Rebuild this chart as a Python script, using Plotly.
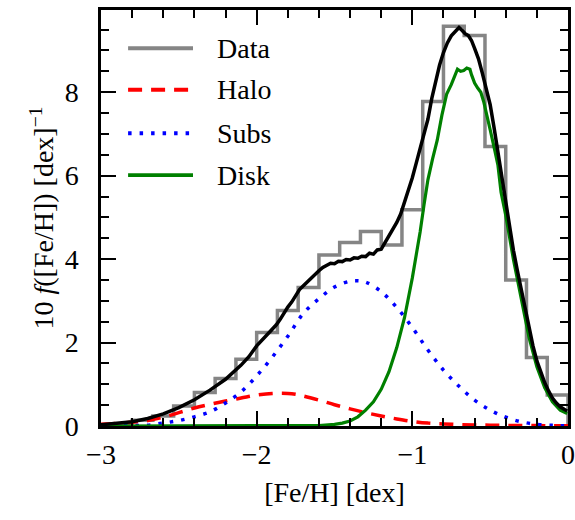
import numpy as np
import plotly.graph_objects as go

# ---- metallicity histogram (bin width 2/15 dex) ----
bin_edges = np.round(np.arange(-22, 1) * 2.0 / 15.0, 4)
hist_vals = [0.05, 0.14, 0.24, 0.48, 0.80, 1.14, 1.60, 2.24, 2.77, 3.32,
             4.10, 4.40, 4.66, 4.34, 5.18, 7.78, 9.58, 9.36, 6.70, 3.50,
             1.64, 0.74]

# ---- total model (noisy, sampled) ----
total_x = [-3.0, -2.9, -2.8, -2.7, -2.6, -2.5, -2.4, -2.3, -2.2, -2.1,
           -2.05, -2.0, -1.975, -1.95, -1.925, -1.9, -1.875, -1.85, -1.825, -1.8,
           -1.775, -1.75, -1.725, -1.7, -1.675, -1.65, -1.625, -1.6, -1.575, -1.55,
           -1.525, -1.5, -1.475, -1.45, -1.425, -1.4, -1.375, -1.35, -1.325, -1.3,
           -1.275, -1.25, -1.225, -1.2, -1.175, -1.15, -1.125, -1.1, -1.075, -1.05,
           -1.025, -1.0, -0.975, -0.95, -0.925, -0.9, -0.875, -0.85, -0.825, -0.8,
           -0.775, -0.75, -0.725, -0.7, -0.68, -0.66, -0.64, -0.62, -0.6, -0.575,
           -0.55, -0.525, -0.5, -0.475, -0.45, -0.425, -0.4, -0.375, -0.35, -0.325,
           -0.3, -0.275, -0.25, -0.225, -0.2, -0.175, -0.15, -0.125, -0.1, -0.075,
           -0.05, -0.025, -0.005]
total_y = [0.03, 0.06, 0.10, 0.18, 0.29, 0.44, 0.63, 0.86, 1.12, 1.46,
           1.66, 1.92, 2.02, 2.10, 2.20, 2.30, 2.42, 2.55, 2.72, 2.85,
           2.97, 3.12, 3.27, 3.36, 3.45, 3.56, 3.64, 3.72, 3.80, 3.85,
           3.90, 3.89, 3.95, 3.94, 3.99, 3.98, 4.03, 4.02, 4.07, 4.06,
           4.14, 4.12, 4.22, 4.24, 4.40, 4.56, 4.70, 4.88, 5.08, 5.35,
           5.62, 5.95, 6.30, 6.65, 6.95, 7.35, 7.85, 8.30, 8.65, 8.95,
           9.18, 9.35, 9.45, 9.55, 9.48, 9.40, 9.36, 9.24, 9.05, 8.80,
           8.45, 8.10, 7.70, 7.15, 6.55, 5.95, 5.35, 4.75, 4.20, 3.72,
           3.25, 2.78, 2.32, 1.92, 1.56, 1.28, 1.04, 0.84, 0.67, 0.55,
           0.46, 0.40, 0.36]

# ---- halo component ----
halo_x = [-3.0, -2.9, -2.8, -2.7, -2.6, -2.5, -2.4, -2.3, -2.2, -2.1,
          -2.0, -1.9, -1.8, -1.75, -1.7, -1.6, -1.5, -1.4, -1.3, -1.2,
          -1.1, -1.0, -0.9, -0.8, -0.7, -0.6, -0.5, -0.4, -0.3, -0.2,
          -0.1, 0.0]
halo_y = [0.04, 0.06, 0.09, 0.13, 0.21, 0.32, 0.43, 0.52, 0.60, 0.67,
          0.74, 0.78, 0.78, 0.76, 0.72, 0.62, 0.51, 0.41, 0.32, 0.24,
          0.17, 0.11, 0.07, 0.05, 0.035, 0.025, 0.02, 0.015, 0.01, 0.01,
          0.005, 0.005]

# ---- substructure component ----
subs_x = [-3.0, -2.9, -2.8, -2.7, -2.6, -2.5, -2.4, -2.3, -2.2, -2.1,
          -2.0, -1.9, -1.8, -1.7, -1.6, -1.5, -1.4, -1.35, -1.3, -1.2,
          -1.1, -1.0, -0.9, -0.8, -0.7, -0.6, -0.5, -0.4, -0.3, -0.2,
          -0.1, 0.0]
subs_y = [0.0, 0.0, 0.01, 0.02, 0.07, 0.13, 0.22, 0.34, 0.55, 0.82,
          1.20, 1.65, 2.15, 2.70, 3.05, 3.33, 3.47, 3.48, 3.45, 3.22,
          2.84, 2.36, 1.82, 1.34, 0.95, 0.62, 0.38, 0.21, 0.10, 0.04,
          0.015, 0.005]

# ---- disk component (noisy, sampled) ----
disk_x = [-3.0, -2.0, -1.7, -1.6, -1.5, -1.45, -1.4, -1.35, -1.3, -1.25,
          -1.2, -1.15, -1.1, -1.05, -1.0, -0.975, -0.95, -0.925, -0.9, -0.87,
          -0.84, -0.81, -0.78, -0.75, -0.73, -0.71, -0.69, -0.67, -0.65, -0.63,
          -0.62, -0.6, -0.58, -0.56, -0.54, -0.52, -0.5, -0.47, -0.45, -0.43,
          -0.4, -0.35, -0.3, -0.25, -0.2, -0.15, -0.1, -0.05, -0.005]
disk_y = [0.0, 0.0, 0.0, 0.01, 0.04, 0.07, 0.12, 0.22, 0.38, 0.58,
          0.88, 1.30, 1.88, 2.60, 3.55, 4.05, 4.65, 5.30, 5.90, 6.40,
          6.85, 7.45, 7.95, 8.18, 8.35, 8.55, 8.50, 8.52, 8.58, 8.55,
          8.42, 8.22, 8.10, 8.00, 7.75, 7.45, 7.10, 6.60, 6.25, 5.60,
          5.05, 3.98, 3.05, 2.12, 1.42, 0.92, 0.58, 0.38, 0.30]

# ---- legend entries ----
legend_names = ["Data", "Halo", "Subs", "Disk"]

FONT = "Liberation Serif"
FS = 28

# step outline of the histogram
step_x = [bin_edges[0]] + list(bin_edges[:-1]) + [bin_edges[-1], bin_edges[-1]]
step_y = [0.0] + list(hist_vals) + [hist_vals[-1], 0.0]

styles = {
    "Data": dict(color="#858585", width=3.5, dash="solid"),
    "Halo": dict(color="#ff0000", width=3.5, dash="14px,9px"),
    "Subs": dict(color="#0000ff", width=3.5, dash="3.5px,8px"),
    "Disk": dict(color="#008000", width=3.2, dash="solid"),
}

fig = go.Figure()
fig.add_trace(go.Scatter(x=step_x, y=step_y, mode="lines", line_shape="hv",
                         line=styles["Data"], name="Data", showlegend=False))
fig.add_trace(go.Scatter(x=halo_x, y=halo_y, mode="lines", line_shape="spline",
                         line=styles["Halo"], name="Halo", showlegend=False))
fig.add_trace(go.Scatter(x=subs_x, y=subs_y, mode="lines", line_shape="spline",
                         line=styles["Subs"], name="Subs", showlegend=False))
fig.add_trace(go.Scatter(x=disk_x, y=disk_y, mode="lines",
                         line=styles["Disk"], name="Disk", showlegend=False))
fig.add_trace(go.Scatter(x=total_x, y=total_y, mode="lines",
                         line=dict(color="black", width=3.5), name="Total",
                         showlegend=False))

# legend drawn in the upper-left corner of the axes
row_y = [0.908, 0.808, 0.704, 0.603]
for name, yy in zip(legend_names, row_y):
    st = styles[name]
    fig.add_shape(type="line", xref="paper", yref="paper",
                  x0=0.058, x1=0.197, y0=yy, y1=yy,
                  line=dict(color=st["color"], width=st["width"] + 0.5, dash=st["dash"]))
    fig.add_annotation(x=0.244, y=yy, xref="paper", yref="paper", text=name,
                       showarrow=False, xanchor="left", yanchor="middle",
                       font=dict(family=FONT, size=FS, color="black"))

axis_common = dict(
    showgrid=False, zeroline=False, showline=True, linecolor="black",
    linewidth=2.5, mirror="allticks", ticks="inside", tickcolor="black",
    tickwidth=2, ticklen=15, automargin=False,
    tickfont=dict(family=FONT, size=FS, color="black"),
)

fig.update_xaxes(
    range=[-3, 0], tickmode="array", tickvals=[-3, -2, -1, 0],
    ticktext=["\u22123", "\u22122", "\u22121", "0"],
    minor=dict(ticks="inside", ticklen=8, tickwidth=1.5, tickcolor="black",
               tick0=-3, dtick=0.2),
    title=dict(text="[Fe/H] [dex]", font=dict(family=FONT, size=FS, color="black"),
               standoff=14),
    ticklabelstandoff=2,
    **axis_common,
)
fig.update_yaxes(
    range=[0, 9.97], tickmode="array", tickvals=[0, 2, 4, 6, 8],
    ticktext=["0", "2", "4", "6", "8"],
    minor=dict(ticks="inside", ticklen=8, tickwidth=1.5, tickcolor="black",
               tick0=0, dtick=0.5),
    title=dict(text="10 <i>f</i>([Fe/H]) [dex]<sup>\u22121</sup>",
               font=dict(family=FONT, size=FS, color="black"), standoff=3),
    ticklabelstandoff=14,
    **axis_common,
)

fig.update_layout(
    width=575, height=520,
    margin=dict(l=101, r=7, t=10, b=94),
    plot_bgcolor="white", paper_bgcolor="white",
    showlegend=False,
)

fig.write_html("out.html")
